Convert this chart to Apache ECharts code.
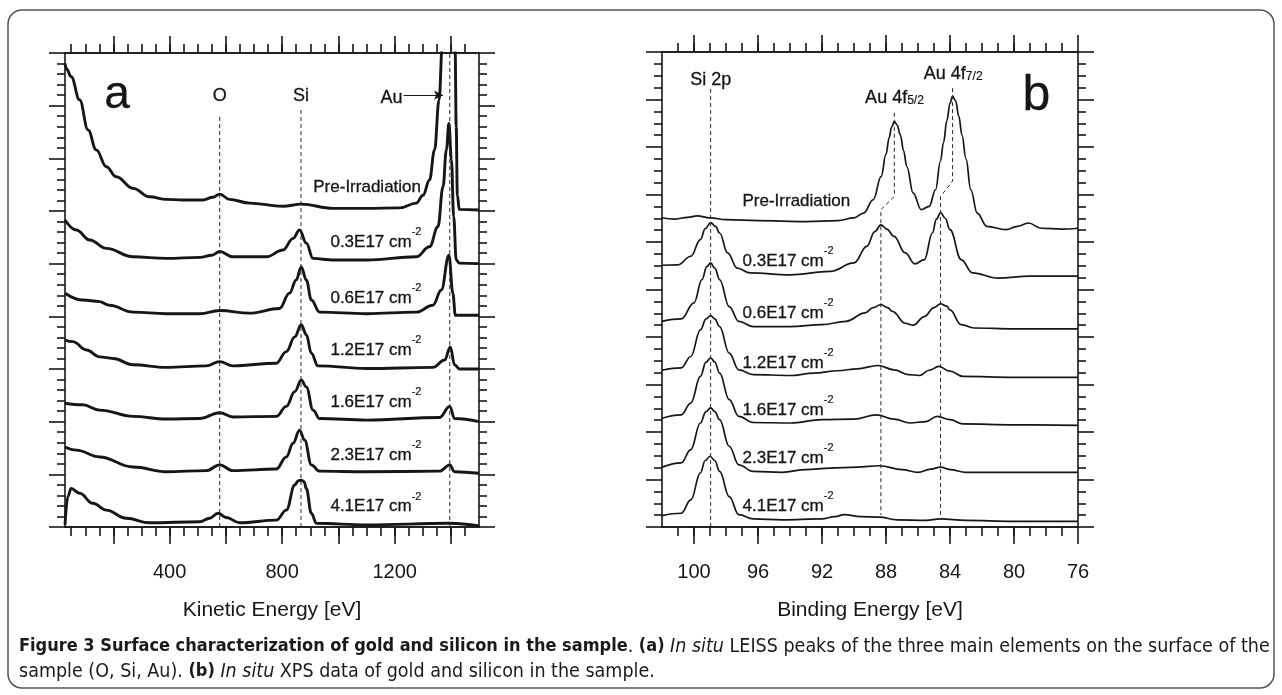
<!DOCTYPE html>
<html>
<head>
<meta charset="utf-8">
<title>Figure 3</title>
<script src="https://cdn.jsdelivr.net/npm/echarts@6/dist/echarts.min.js"></script>
<style>
  html, body { margin: 0; padding: 0; background: #fff; }
  #main { width: 1282px; height: 695px; }
</style>
</head>
<body>
<div id="main"></div>
<script>
// ---- panel a : LEISS spectra, [kinetic energy eV, offset intensity] ----
var leissPre = [[28, 8.80], [33, 8.70], [50, 8.55], [80, 8.11], [110, 7.54], [139, 7.16], [175, 6.84], [210, 6.65],
  [270, 6.43], [329, 6.27], [388, 6.22], [447, 6.21], [518, 6.21], [554, 6.26], [578, 6.32], [613, 6.22],
  [684, 6.15], [803, 6.09], [868, 6.13], [981, 6.05], [1100, 6.05], [1218, 6.06], [1277, 6.15], [1301, 6.30],
  [1324, 6.59], [1342, 7.16], [1358, 8.11], [1370, 9.2], [1385, 12], [1398, 14], [1410, 11], [1415, 9.1],
  [1419, 7.6], [1423, 6.3], [1430, 6.03], [1500, 6.02]];
var leiss03 = [[28, 5.83], [68, 5.64], [116, 5.45], [175, 5.29], [270, 5.13], [388, 5.10], [507, 5.12], [550, 5.16],
  [578, 5.23], [625, 5.13], [744, 5.13], [803, 5.26], [839, 5.48], [862, 5.64], [886, 5.39], [910, 5.10],
  [981, 5.07], [1100, 5.07], [1277, 5.13], [1324, 5.32], [1354, 5.70], [1372, 6.46], [1384, 7.16], [1393, 7.66],
  [1402, 6.97], [1410, 5.89], [1419, 5.07], [1430, 5.01], [1500, 5.0]];
var leiss06 = [[28, 4.44], [91, 4.31], [151, 4.28], [186, 4.21], [270, 4.08], [388, 4.05], [507, 4.05], [578, 4.11],
  [684, 4.06], [791, 4.15], [826, 4.44], [850, 4.69], [868, 4.94], [886, 4.69], [904, 4.31], [933, 4.08],
  [1100, 4.05], [1277, 4.08], [1336, 4.21], [1366, 4.50], [1393, 5.16], [1407, 4.44], [1416, 4.02], [1500, 4.02]];
var leiss12 = [[28, 3.55], [56, 3.52], [104, 3.36], [151, 3.23], [199, 3.20], [270, 3.08], [388, 3.03], [530, 3.06],
  [578, 3.14], [625, 3.06], [779, 3.11], [815, 3.33], [845, 3.61], [868, 3.84], [886, 3.65], [904, 3.30],
  [927, 3.06], [1100, 3.01], [1336, 3.03], [1378, 3.17], [1398, 3.42], [1413, 3.08], [1431, 3.00], [1500, 3.0]];
var leiss16 = [[28, 2.35], [91, 2.32], [151, 2.22], [270, 2.10], [388, 2.05], [507, 2.06], [578, 2.17], [625, 2.09],
  [779, 2.10], [815, 2.29], [845, 2.57], [868, 2.79], [886, 2.66], [910, 2.22], [933, 2.06], [1100, 2.03],
  [1360, 2.08], [1396, 2.29], [1413, 2.06], [1500, 2.0]];
var leiss23 = [[28, 1.52], [68, 1.46], [151, 1.33], [270, 1.14], [388, 1.05], [530, 1.07], [578, 1.18], [625, 1.07],
  [779, 1.10], [815, 1.33], [839, 1.59], [862, 1.84], [880, 1.65], [904, 1.18], [933, 1.06], [1100, 1.05],
  [1360, 1.06], [1396, 1.18], [1413, 1.05], [1500, 1.02]];
var leiss41 = [[28, 0.04], [38, 0.58], [50, 0.73], [80, 0.64], [127, 0.45], [175, 0.32], [246, 0.165], [329, 0.08],
  [507, 0.10], [542, 0.165], [572, 0.26], [601, 0.18], [649, 0.08], [779, 0.13], [815, 0.32], [845, 0.80],
  [858, 0.88], [868, 0.89], [878, 0.86], [886, 0.73], [904, 0.26], [922, 0.07], [1100, 0.04], [1396, 0.07], [1500, 0.02]];

// ---- panel b : XPS spectra, [binding energy eV, offset intensity] ----
var xpsPre = [[102, 6.51], [101.25, 6.48], [100.4, 6.52], [99.8, 6.55], [99.0, 6.51], [98, 6.47], [96, 6.45], [93, 6.43],
  [91, 6.45], [90, 6.51], [89.4, 6.61], [88.8, 6.89], [88.3, 7.38], [88.0, 7.85], [87.8, 8.2], [87.65, 8.42],
  [87.48, 8.54], [87.3, 8.46], [87.1, 8.25], [86.9, 7.92], [86.7, 7.59], [86.3, 7.03], [85.8, 6.68], [85.3, 6.75],
  [84.9, 7.10], [84.6, 7.7], [84.4, 8.1], [84.2, 8.55], [84.0, 8.92], [83.84, 9.07], [83.65, 8.97], [83.45, 8.65],
  [83.25, 8.25], [83.0, 7.75], [82.7, 7.10], [82.3, 6.61], [81.7, 6.33], [80.5, 6.26], [79.8, 6.33], [79.1, 6.40],
  [78.3, 6.29], [77, 6.27], [76, 6.29]];
var xps03 = [[102, 5.51], [101, 5.52], [100.2, 5.70], [99.6, 6.05], [99.3, 6.28], [98.96, 6.41], [98.65, 6.33], [98.4, 6.19],
  [97.9, 5.77], [97.3, 5.45], [96.5, 5.35], [94, 5.31], [91.5, 5.38], [90, 5.56], [89.2, 5.91], [88.7, 6.22],
  [88.32, 6.36], [87.95, 6.27], [87.5, 6.12], [86.8, 5.77], [86.2, 5.54], [85.6, 5.63], [85.1, 6.19], [84.85, 6.48],
  [84.59, 6.62], [84.3, 6.50], [84.0, 6.26], [83.3, 5.63], [82.6, 5.35], [81, 5.24], [79, 5.28], [76, 5.28]];
var xps06 = [[102, 4.33], [100.8, 4.38], [100, 4.72], [99.5, 5.21], [99.2, 5.48], [98.96, 5.56], [98.7, 5.45], [98.4, 5.21],
  [97.8, 4.64], [97.2, 4.33], [96.3, 4.22], [94, 4.22], [92, 4.26], [90.5, 4.33], [89.3, 4.51], [88.8, 4.62],
  [88.32, 4.68], [87.9, 4.62], [87.6, 4.54], [86.8, 4.29], [86.3, 4.25], [85.6, 4.43], [85.0, 4.62], [84.59, 4.70],
  [84.2, 4.65], [84, 4.57], [83.3, 4.26], [82.5, 4.19], [80, 4.17], [76, 4.17]];
var xps12 = [[102, 3.30], [100.8, 3.35], [100.2, 3.59], [99.6, 4.15], [99.25, 4.38], [98.96, 4.45], [98.7, 4.38], [98.4, 4.22],
  [97.8, 3.66], [97.2, 3.31], [96.3, 3.21], [94, 3.19], [92.5, 3.24], [91, 3.29], [89.8, 3.33], [88.5, 3.40],
  [87.5, 3.31], [86.6, 3.21], [85.9, 3.19], [85.3, 3.30], [84.7, 3.38], [84, 3.28], [83.2, 3.17], [80, 3.15], [76, 3.15]];
var xps16 = [[102, 2.29], [100.8, 2.36], [100.2, 2.61], [99.6, 3.17], [99.25, 3.47], [98.96, 3.56], [98.7, 3.47], [98.4, 3.24],
  [97.8, 2.68], [97.2, 2.33], [96.3, 2.20], [94, 2.19], [92, 2.26], [90, 2.27], [88.6, 2.36], [87.5, 2.27],
  [86.5, 2.19], [85.5, 2.22], [84.8, 2.33], [84, 2.26], [83.2, 2.17], [80, 2.15], [76, 2.14]];
var xps23 = [[102, 1.26], [100.8, 1.35], [100.2, 1.63], [99.6, 2.19], [99.25, 2.43], [98.96, 2.51], [98.7, 2.43], [98.4, 2.26],
  [97.8, 1.70], [97.2, 1.31], [96.3, 1.17], [94.5, 1.15], [93, 1.21], [91.5, 1.24], [89.8, 1.26], [88.4, 1.29],
  [87, 1.21], [86, 1.15], [85.2, 1.22], [84.6, 1.26], [84, 1.21], [83, 1.15], [80, 1.15], [76, 1.15]];
var xps41 = [[102, 0.24], [100.8, 0.29], [100.2, 0.57], [99.6, 1.14], [99.3, 1.40], [99.0, 1.49], [98.7, 1.40], [98.4, 1.17],
  [97.8, 0.64], [97.2, 0.26], [96.3, 0.17], [94.5, 0.15], [92, 0.17], [91.2, 0.22], [90.6, 0.26], [89.6, 0.22],
  [88.4, 0.21], [87.3, 0.15], [85.5, 0.14], [84.6, 0.17], [83, 0.14], [80, 0.12], [76, 0.12]];

// ---- dashed guide lines ----
var guideA = [
  [[578, 0], [578, 7.82]],
  [[867, 0], [867, 7.95]],
  [[1396, 0], [1396, 9]]
];
var guideB = [
  [[98.96, 0], [98.96, 9.22]],
  [[87.48, 8.72], [87.48, 6.96], [88.32, 6.68], [88.32, 0.25]],
  [[83.84, 9.24], [83.84, 7.28], [84.59, 6.96], [84.59, 0.2]]
];

// ---- texts ----
var doseNames = ['Pre-Irradiation', '0.3E17', '0.6E17', '1.2E17', '1.6E17', '2.3E17', '4.1E17'];
var doseLabelXA = [909, 970, 970, 970, 970, 970, 970];
var doseLabelYA = [6.52, 5.47, 4.41, 3.42, 2.44, 1.43, 0.45];
var doseLabelXB = [97, 97, 97, 97, 97, 97, 97];
var doseLabelYB = [6.92, 5.67, 4.57, 3.52, 2.54, 1.52, 0.51];
var peakTextA = [[578, 8.24, 'O'], [867, 8.24, 'Si'], [1189, 8.2, 'Au']];
var peakTextB = [[98.96, 9.48, 'Si 2p', ''], [87.47, 9.16, 'Au 4f', '5/2'], [83.8, 9.67, 'Au 4f', '7/2']];
var panelTags = [[213, 8.2, 'a'], [78.6, 9.07, 'b']];
var auArrow = [[1232, 8.2], [1372, 8.2]];

var ticksA = [], ticksAMajor = [200, 400, 600, 800, 1000, 1200, 1400];
for (var e = 50; e < 1500; e += 50) ticksA.push(e);
var labelsA = [400, 800, 1200];
var ticksB = [], ticksBMajor = [76, 80, 84, 88, 92, 96, 100];
for (var b = 77; b < 102; b++) ticksB.push(b);

var INK = '#161616';
var FONT = 'Liberation Sans, Arial, Helvetica, sans-serif';

function xAx(grid, min, max, inverse, pos, ticks, len, labels, name) {
  return {
    type: 'value', gridIndex: grid, position: pos, min: min, max: max, inverse: inverse,
    axisLine: { show: true, onZero: false, lineStyle: { color: INK, width: 1.6 } },
    axisTick: { show: true, customValues: ticks, length: len, lineStyle: { color: INK, width: 1.6 } },
    axisLabel: labels ? { show: true, customValues: labels, margin: 35, fontSize: 20, color: INK, fontFamily: FONT,
      formatter: function (v) { return String(v); } } : { show: false },
    splitLine: { show: false },
    name: name || '', nameLocation: 'middle', nameGap: 73,
    nameTextStyle: { fontSize: 21, color: INK, fontFamily: FONT }
  };
}
function yAx(grid, max, pos, minorSplit) {
  return {
    type: 'value', gridIndex: grid, position: pos, min: 0, max: max, interval: 1,
    axisLine: { show: true, onZero: false, lineStyle: { color: INK, width: 1.6 } },
    axisTick: { show: true, length: 16, lineStyle: { color: INK, width: 1.6 } },
    minorTick: { show: true, splitNumber: minorSplit, length: 8, lineStyle: { color: INK, width: 1.6 } },
    axisLabel: { show: false }, splitLine: { show: false }, minorSplitLine: { show: false }
  };
}
function trace(data, xi, yi, w) {
  return { type: 'line', xAxisIndex: xi, yAxisIndex: yi, data: data, showSymbol: false, symbol: 'none',
    smooth: 0.4, smoothMonotone: 'x', lineStyle: { color: INK, width: w }, silent: true };
}
function guide(data, xi, yi) {
  return { type: 'line', xAxisIndex: xi, yAxisIndex: yi, data: data, showSymbol: false, symbol: 'none',
    lineStyle: { color: '#2a2a2a', width: 1, type: [4, 3] }, silent: true };
}
function textSeries(data, xi, yi, pos, size) {
  return { type: 'scatter', xAxisIndex: xi, yAxisIndex: yi, data: data, symbolSize: 1,
    itemStyle: { color: 'rgba(0,0,0,0)' }, silent: true,
    label: { show: true, position: pos, distance: 0, color: INK, opacity: 1, fontFamily: FONT, fontSize: size,
      textBorderColor: INK, textBorderWidth: 0.3,
      formatter: function (p) { return p.data[2]; },
      rich: {
        t: { fontSize: size, fontFamily: FONT, color: INK, textBorderColor: INK, textBorderWidth: 0.3, lineHeight: 24, verticalAlign: 'bottom' },
        s: { fontSize: 11, fontFamily: FONT, color: INK, textBorderColor: INK, textBorderWidth: 0.2, verticalAlign: 'top', lineHeight: 24 },
        sub: { fontSize: 12, fontFamily: FONT, color: INK, textBorderColor: INK, textBorderWidth: 0.2, verticalAlign: 'bottom', lineHeight: 30 }
      } } };
}
function doseData(xs, ys) {
  return doseNames.map(function (n, i) {
    var txt = i === 0 ? '{t|' + n + '}' : '{t|' + n + ' cm}{s|-2}';
    return [xs[i], ys[i], txt];
  });
}

var chart = echarts.init(document.getElementById('main'), null, { renderer: 'canvas' });

var series = [
  trace(leissPre, 0, 0, 2.9), trace(leiss03, 0, 0, 2.9), trace(leiss06, 0, 0, 2.9), trace(leiss12, 0, 0, 2.9),
  trace(leiss16, 0, 0, 2.9), trace(leiss23, 0, 0, 2.9), trace(leiss41, 0, 0, 2.9),
  trace(xpsPre, 4, 2, 1.7), trace(xps03, 4, 2, 1.7), trace(xps06, 4, 2, 1.7), trace(xps12, 4, 2, 1.7),
  trace(xps16, 4, 2, 1.7), trace(xps23, 4, 2, 1.7), trace(xps41, 4, 2, 1.7)
];
guideA.forEach(function (g) { series.push(guide(g, 0, 0)); });
guideB.forEach(function (g) { series.push(guide(g, 4, 2)); });
series.push(textSeries(doseData(doseLabelXA, doseLabelYA), 0, 0, 'right', 17));
series.push(textSeries(doseData(doseLabelXB, doseLabelYB), 4, 2, 'right', 17));
series.push(textSeries(peakTextA.map(function (d) { return [d[0], d[1], '{t|' + d[2] + '}']; }), 0, 0, 'inside', 18));
series.push(textSeries(peakTextB.map(function (d) {
  return [d[0], d[1], '{t|' + d[2] + '}' + (d[3] ? '{sub|' + d[3] + '}' : '')];
}), 4, 2, 'inside', 18));
series.push(textSeries([panelTags[0]], 0, 0, 'inside', 46));
series.push(textSeries([panelTags[1]], 4, 2, 'inside', 50));
series.push({ type: 'line', xAxisIndex: 0, yAxisIndex: 0, data: [], silent: true,
  markLine: { silent: true, symbol: ['none', 'arrow'], symbolSize: [7, 9], label: { show: false },
    lineStyle: { color: INK, width: 1, type: 'solid' },
    data: [[{ coord: auArrow[0] }, { coord: auArrow[1] }]] } });

var caption = '{b|Figure 3 Surface characterization of gold and silicon in the sample}{n|. }{b|(a)}{n| }{i|In situ}' +
  '{n| LEISS peaks of the three main elements on the surface of the}\n' +
  '{n|sample (O, Si, Au). }{b|(b)}{n| }{i|In situ}{n| XPS data of gold and silicon in the sample.}';
var capFont = 'DejaVu Sans Condensed, Liberation Sans Narrow, sans-serif';

chart.setOption({
  animation: false,
  backgroundColor: '#fff',
  title: {
    text: caption, left: 14, top: 629,
    textStyle: { fontWeight: 'normal', rich: {
      b: { fontFamily: capFont, fontSize: 18, fontWeight: 'bold', color: '#1a1a1a', lineHeight: 25 },
      n: { fontFamily: capFont, fontSize: 19.5, fontWeight: 'normal', color: '#1a1a1a', lineHeight: 25 },
      i: { fontFamily: capFont, fontSize: 19.5, fontWeight: 'normal', fontStyle: 'italic', color: '#1a1a1a', lineHeight: 25 }
    } }
  },
  graphic: [{ type: 'rect', shape: { x: 8, y: 10, width: 1266, height: 678, r: 14 },
    style: { fill: 'none', stroke: '#555', lineWidth: 1.5 }, silent: true }],
  grid: [
    { left: 65, top: 53, width: 414, height: 474 },
    { left: 662, top: 52, width: 416, height: 475 }
  ],
  xAxis: [
    xAx(0, 28, 1500, false, 'bottom', ticksAMajor, 17, labelsA, 'Kinetic Energy [eV]'),
    xAx(0, 28, 1500, false, 'bottom', ticksA, 9, null, ''),
    xAx(0, 28, 1500, false, 'top', ticksAMajor, 17, null, ''),
    xAx(0, 28, 1500, false, 'top', ticksA, 9, null, ''),
    xAx(1, 76, 102, true, 'bottom', ticksBMajor, 17, ticksBMajor, 'Binding Energy [eV]'),
    xAx(1, 76, 102, true, 'bottom', ticksB, 9, null, ''),
    xAx(1, 76, 102, true, 'top', ticksBMajor, 17, null, ''),
    xAx(1, 76, 102, true, 'top', ticksB, 9, null, '')
  ],
  yAxis: [
    yAx(0, 9, 'left', 5), yAx(0, 9, 'right', 5),
    yAx(1, 10, 'left', 4), yAx(1, 10, 'right', 4)
  ],
  series: series
});
</script>
</body>
</html>
